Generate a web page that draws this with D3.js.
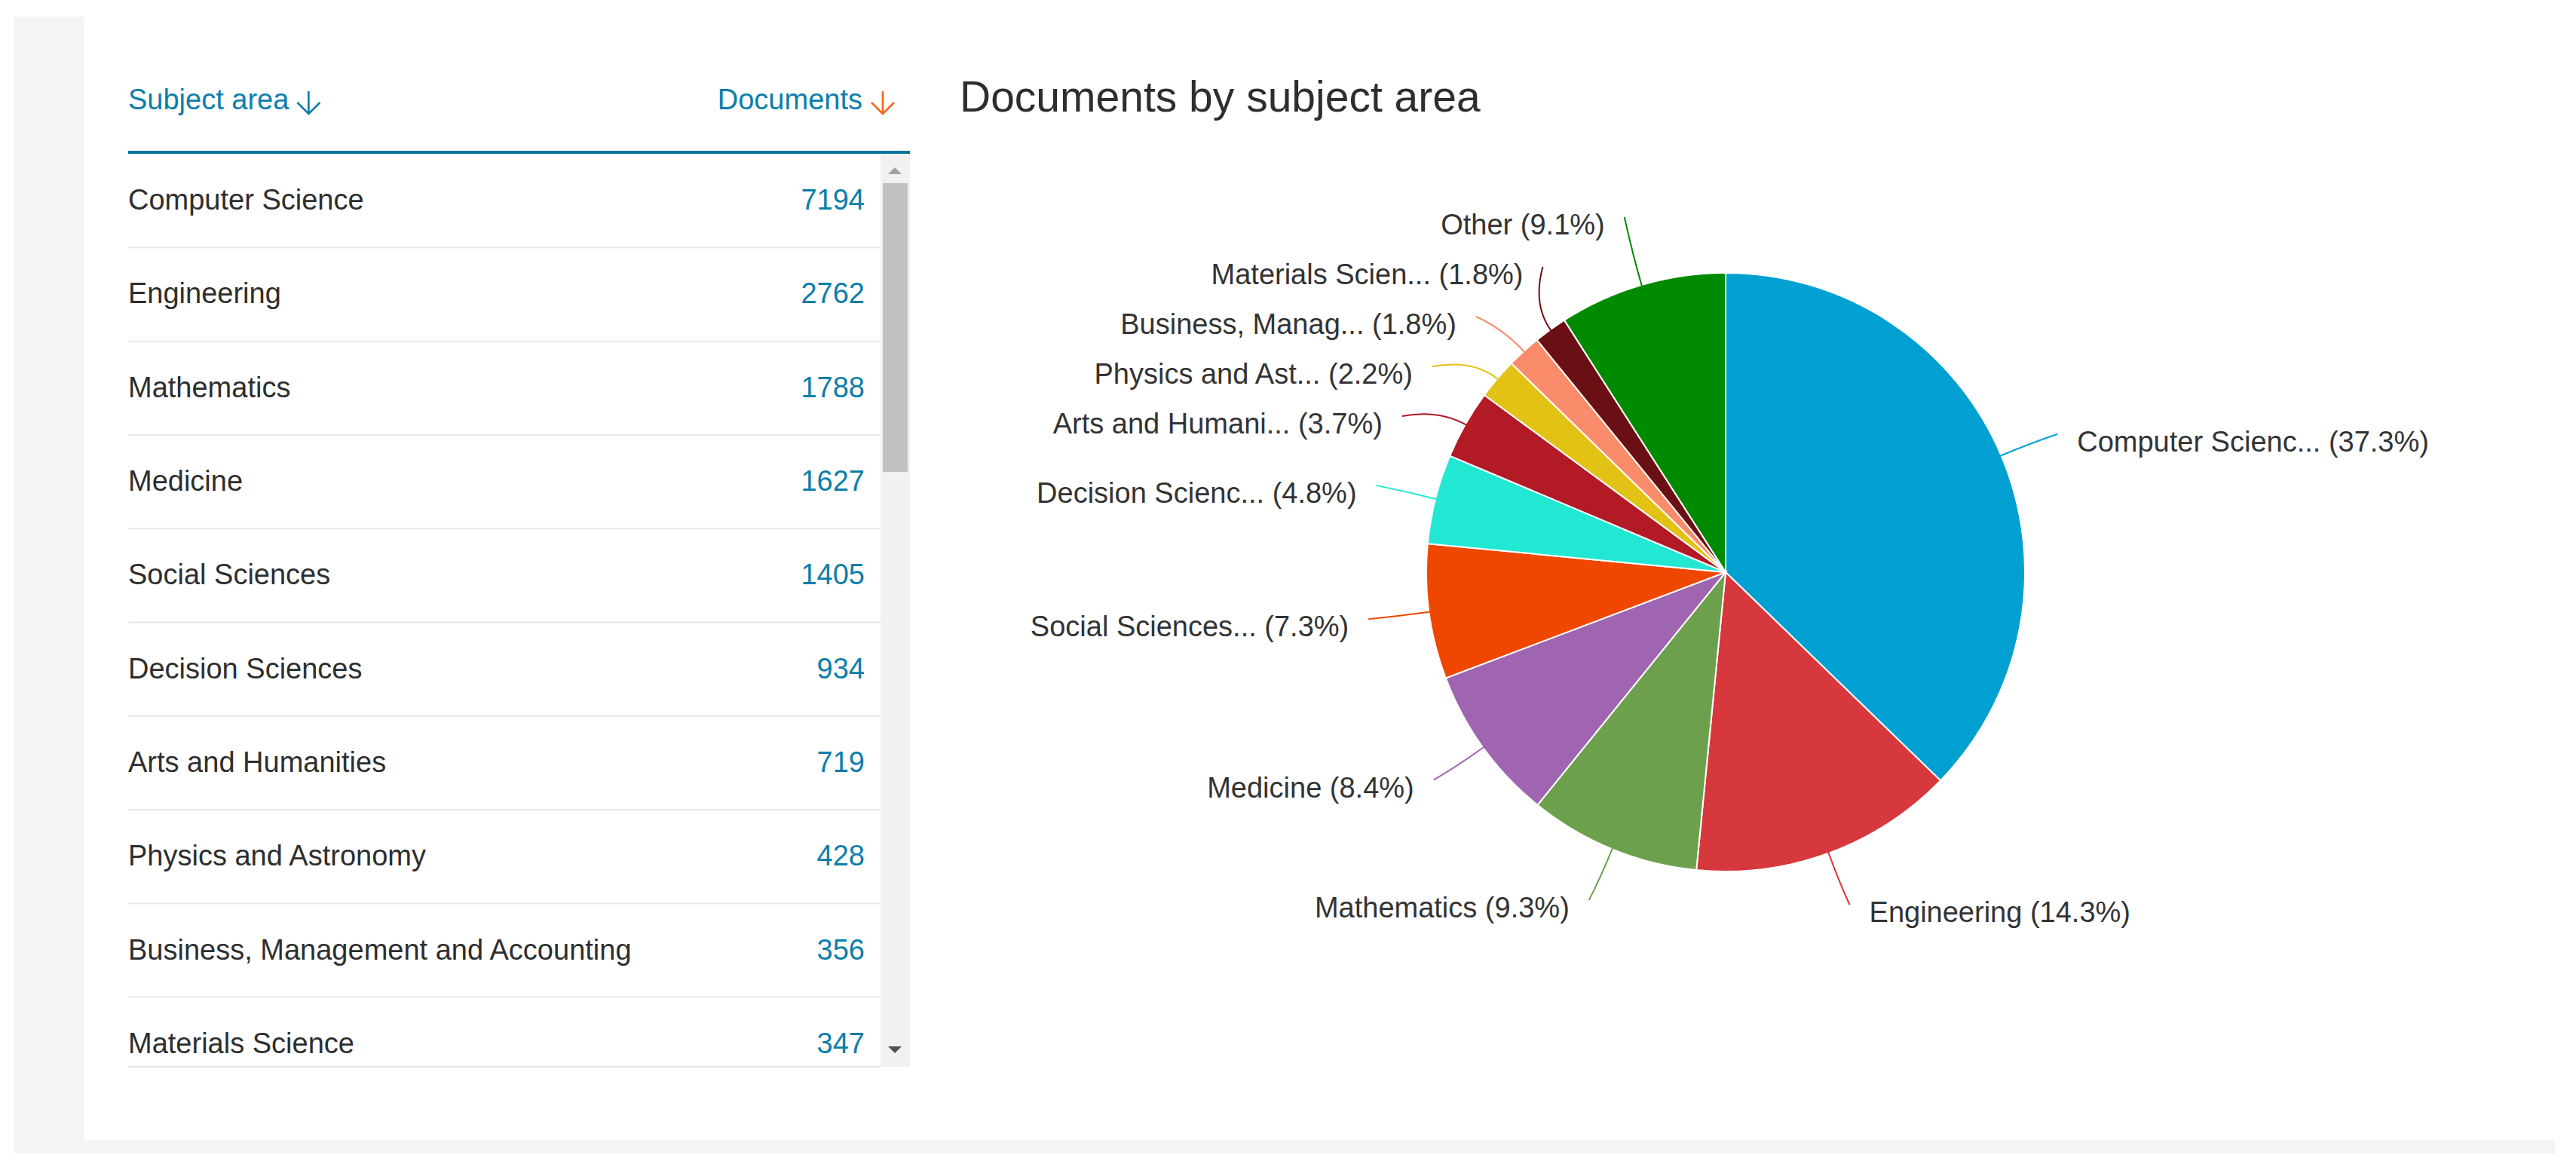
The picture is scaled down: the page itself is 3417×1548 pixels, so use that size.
<!DOCTYPE html>
<html>
<head>
<meta charset="utf-8">
<script src="https://cdn.jsdelivr.net/npm/d3@7"></script>
<style>
  body { margin: 0; background: #fff; }
  svg { display: block; font-family: "Liberation Sans", Arial, sans-serif; }
</style>
</head>
<body>
<svg id="svg"></svg>
<script>
// table rows (scopus subject areas)
const subjects = ["Computer Science", "Engineering", "Mathematics", "Medicine", "Social Sciences",
    "Decision Sciences", "Arts and Humanities", "Physics and Astronomy",
    "Business, Management and Accounting", "Materials Science"];
const documents = [7194, 2762, 1788, 1627, 1405, 934, 719, 428, 356, 347];
// rest of the subject areas, lumped together in the pie
const otherDocuments = 1750;
// the pie shows shortened names
const pieNames = ["Computer Scienc...", "Engineering", "Mathematics", "Medicine", "Social Sciences...",
    "Decision Scienc...", "Arts and Humani...", "Physics and Ast...", "Business, Manag...",
    "Materials Scien...", "Other"];
const pieColours = ["#00a0d2", "#d6383e", "#6da04c", "#a065b1", "#ef4700", "#22e8d3",
    "#b21a25", "#e2c214", "#fa8c6c", "#6a1015", "#008a00"];

const width = 3417;
const height = 1548;
let svg = d3.select("#svg");

function initialiseSVG() {
    svg.attr("width", width).attr("height", height);
    // grey page frame + white card
    svg.append("rect").attr("x", 18).attr("y", 22).attr("width", 3371).attr("height", 1508).attr("fill", "#f4f4f4");
    svg.append("rect").attr("x", 112).attr("y", 22).attr("width", 3277).attr("height", 1490).attr("fill", "#ffffff");
}

function drawArrow(g, x, colour) {
    // little "sort" arrow next to the header text
    g.append("path")
        .attr("d", `M${x},121 L${x},151 M${x - 15},136 L${x},151 L${x + 15},136`)
        .attr("fill", "none")
        .attr("stroke", colour)
        .attr("stroke-width", 2.6);
}

function drawTable() {
    const left = 170, right = 1207, numRight = 1147, scrollX = 1168;
    const bodyTop = 204, bodyBottom = 1415;
    const teal = "#0c7eaa";
    const table = svg.append("g");

    // header
    const head1 = table.append("text")
        .attr("x", left).attr("y", 145)
        .attr("font-size", "38px").attr("fill", teal)
        .text("Subject area");
    drawArrow(table, left + head1.node().getComputedTextLength() + 26, teal);
    table.append("text")
        .attr("x", 1144).attr("y", 145)
        .attr("text-anchor", "end")
        .attr("font-size", "38px").attr("fill", teal)
        .text("Documents");
    drawArrow(table, 1171, "#f7661e");
    table.append("rect").attr("x", left).attr("y", 200).attr("width", right - left).attr("height", 4).attr("fill", "#00739a");

    // body, clipped like the scroll box
    svg.append("clipPath").attr("id", "bodyClip")
        .append("rect").attr("x", left).attr("y", bodyTop).attr("width", scrollX - left).attr("height", bodyBottom - bodyTop);

    const rowScale = d3.scaleBand()
        .domain(subjects)
        .range([bodyTop, bodyTop + 124.3 * subjects.length]);

    const body = table.append("g").attr("clip-path", "url(#bodyClip)");
    const rows = body.selectAll("g.row")
        .data(subjects)
        .join("g")
        .attr("class", "row")
        .attr("transform", d => `translate(0,${rowScale(d)})`);

    rows.append("text")
        .attr("x", left)
        .attr("y", rowScale.bandwidth() / 2 + 12)
        .attr("font-size", "38px")
        .attr("fill", "#2e2e2e")
        .text(d => d);

    rows.append("text")
        .attr("x", numRight)
        .attr("y", rowScale.bandwidth() / 2 + 12)
        .attr("text-anchor", "end")
        .attr("font-size", "38px")
        .attr("fill", teal)
        .text((d, i) => documents[i]);

    rows.append("rect")
        .attr("x", left)
        .attr("y", rowScale.bandwidth() - 1)
        .attr("width", scrollX - left)
        .attr("height", 2)
        .attr("fill", "#e8e8e8");

    table.append("rect").attr("x", left).attr("y", bodyBottom - 1).attr("width", scrollX - left).attr("height", 2).attr("fill", "#e8e8e8");

    // scrollbar
    table.append("rect").attr("x", scrollX).attr("y", bodyTop).attr("width", right - scrollX).attr("height", bodyBottom - bodyTop).attr("fill", "#f1f1f1");
    table.append("rect").attr("x", 1171).attr("y", 243).attr("width", 33).attr("height", 383).attr("fill", "#c1c1c1");
    table.append("path").attr("d", "M1178,231 L1196,231 L1187,222 Z").attr("fill", "#a3a3a3");
    table.append("path").attr("d", "M1178,1388 L1196,1388 L1187,1397 Z").attr("fill", "#505050");
}

function drawPieChart() {
    const cx = 2289, cy = 759, r = 397, labelR = 478, labelRy = 470, gap = 66, labelTop = 288;
    const pieData = pieNames.map((name, i) => ({
        name: name,
        value: i < documents.length ? documents[i] : otherDocuments,
        colour: pieColours[i]
    }));
    const total = d3.sum(pieData, d => d.value);
    const pct = d3.format(".1%");

    svg.append("text")
        .attr("x", 1273).attr("y", 148)
        .attr("font-size", "57px")
        .attr("fill", "#2e2e2e")
        .text("Documents by subject area");

    const pie = d3.pie().sort(null).value(d => d.value);
    const arc = d3.arc().innerRadius(0).outerRadius(r);
    const arcs = pie(pieData);

    const chart = svg.append("g").attr("transform", `translate(${cx},${cy})`);
    chart.selectAll("path.slice")
        .data(arcs)
        .join("path")
        .attr("class", "slice")
        .attr("d", arc)
        .attr("fill", d => d.data.colour)
        .attr("stroke", "#ffffff")
        .attr("stroke-width", 2);

    // label positions: start on the natural spot, then spread out overlapping ones
    arcs.forEach(d => {
        d.mid = (d.startAngle + d.endAngle) / 2;
        d.side = Math.sin(d.mid) >= 0 ? 1 : -1;
        d.ny = -labelRy * Math.cos(d.mid);
    });
    [1, -1].forEach(side => {
        const list = arcs.filter(d => d.side === side).sort((a, b) => a.ny - b.ny);
        let clusters = list.map(d => ({ items: [d], mean: d.ny }));
        const top = c => c.mean - (c.items.length - 1) * gap / 2;
        const bottom = c => c.mean + (c.items.length - 1) * gap / 2;
        let merged = true;
        while (merged) {
            merged = false;
            if (clusters.length && top(clusters[0]) < labelTop - cy) {
                clusters[0].mean += (labelTop - cy) - top(clusters[0]);
            }
            for (let i = 0; i < clusters.length - 1; i++) {
                if (top(clusters[i + 1]) - bottom(clusters[i]) < gap) {
                    const items = clusters[i].items.concat(clusters[i + 1].items);
                    clusters.splice(i, 2, { items: items, mean: d3.mean(items, d => d.ny) });
                    merged = true;
                    break;
                }
            }
        }
        clusters.forEach(c => c.items.forEach((d, i) => {
            d.ly = c.mean + (i - (c.items.length - 1) / 2) * gap;
        }));
    });
    arcs.forEach(d => {
        // end of the leader sits on an ellipse round the pie
        const t = Math.min(1, Math.abs(d.ly) / labelRy);
        const onEllipse = labelR * Math.sqrt(1 - t * t);
        const natural = Math.abs(labelR * Math.sin(d.mid));
        d.lx = d.side * (onEllipse < 0.3 * labelR ? natural : onEllipse);
    });

    // leader lines
    chart.selectAll("path.leader")
        .data(arcs)
        .join("path")
        .attr("class", "leader")
        .attr("d", d => {
            const p = d3.path();
            const rs = r - 2, rc = (r + labelR) / 2;
            p.moveTo(rs * Math.sin(d.mid), -rs * Math.cos(d.mid));
            p.quadraticCurveTo(rc * Math.sin(d.mid), -rc * Math.cos(d.mid), d.lx, d.ly);
            return p.toString();
        })
        .attr("fill", "none")
        .attr("stroke", d => d.data.colour)
        .attr("stroke-width", 2);

    chart.selectAll("text.pie-label")
        .data(arcs)
        .join("text")
        .attr("class", "pie-label")
        .attr("x", d => d.lx + d.side * 26)
        .attr("y", d => d.ly + 23)
        .attr("text-anchor", d => d.side > 0 ? "start" : "end")
        .attr("font-size", "38px")
        .attr("fill", "#333333")
        .text(d => `${d.data.name} (${pct(d.data.value / total)})`);
}

initialiseSVG();
drawTable();
drawPieChart();
</script>
</body>
</html>
